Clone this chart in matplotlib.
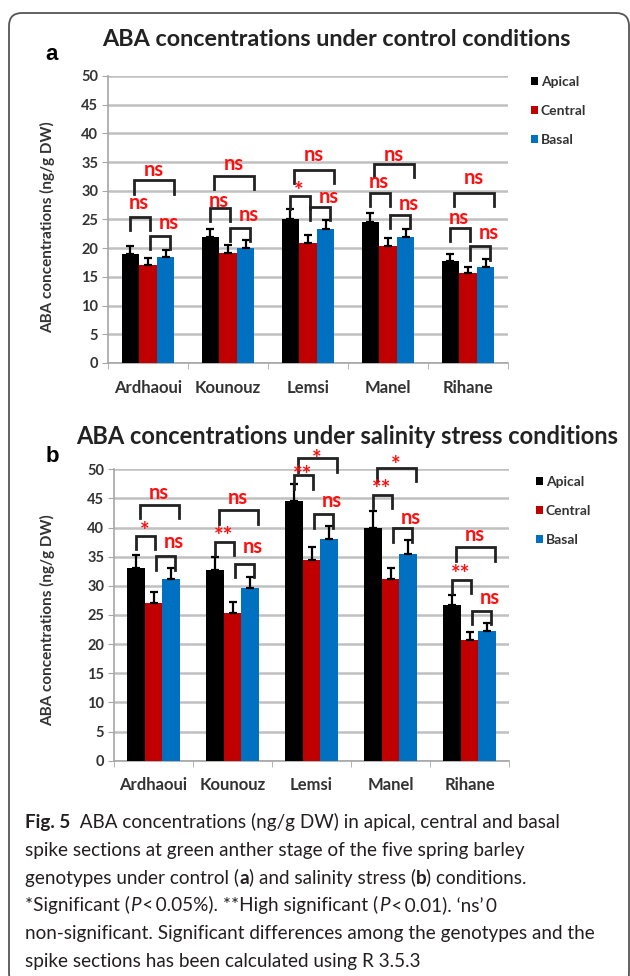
import matplotlib
matplotlib.use('Agg')
import matplotlib.pyplot as plt
import numpy as np
from matplotlib.patches import FancyBboxPatch

plt.rcParams['font.family'] = ['Lato', 'DejaVu Sans']

genotypes = ['Ardhaoui', 'Kounouz', 'Lemsi', 'Manel', 'Rihane']
sections = ['Apical', 'Central', 'Basal']
bar_colors = ['#000000', '#c00000', '#0070c0']

# control conditions (ng/g DW)
ctrl_apical = [19.0, 21.9, 25.1, 24.5, 17.7]
ctrl_central = [17.1, 19.2, 20.9, 20.3, 15.6]
ctrl_basal = [18.4, 20.0, 23.4, 21.9, 16.8]
ctrl_apical_err = [1.4, 1.5, 1.7, 1.6, 1.3]
ctrl_central_err = [1.2, 1.4, 1.4, 1.4, 1.2]
ctrl_basal_err = [1.3, 1.5, 1.5, 1.5, 1.3]

# salinity stress (ng/g DW)
salt_apical = [33.1, 32.7, 44.5, 40.0, 26.7]
salt_central = [27.0, 25.4, 34.4, 31.1, 20.7]
salt_basal = [31.1, 29.7, 38.0, 35.4, 22.3]
salt_apical_err = [2.2, 2.2, 2.9, 2.9, 1.7]
salt_central_err = [2.0, 1.8, 2.2, 2.0, 1.4]
salt_basal_err = [1.9, 1.9, 2.3, 2.4, 1.4]

# significance marks: apical-central, central-basal, apical-basal
ctrl_sig_ac = ['ns', 'ns', '*', 'ns', 'ns']
ctrl_sig_cb = ['ns', 'ns', 'ns', 'ns', 'ns']
ctrl_sig_ab = ['ns', 'ns', 'ns', 'ns', 'ns']
salt_sig_ac = ['*', '**', '**', '**', '**']
salt_sig_cb = ['ns', 'ns', 'ns', 'ns', 'ns']
salt_sig_ab = ['ns', 'ns', '*', '*', 'ns']

# bracket heights (data units)
ctrl_y_ac = [25.5, 27.0, 29.1, 29.7, 23.5]
ctrl_y_cb = [22.2, 23.6, 27.2, 25.8, 20.3]
ctrl_y_ab = [31.8, 32.6, 33.7, 34.7, 29.6]
salt_y_ac = [38.6, 37.6, 49.0, 45.6, 31.0]
salt_y_cb = [35.1, 33.8, 42.3, 39.9, 25.7]
salt_y_ab = [43.9, 43.0, 51.9, 50.3, 36.6]

# heights of the significance labels (data units)
ctrl_lbl_ac = [27.8, 28.3, 31.0, 31.6, 25.2]
ctrl_lbl_cb = [24.4, 25.8, 29.0, 27.7, 22.6]
ctrl_lbl_ab = [33.7, 34.7, 36.2, 36.3, 32.3]
salt_lbl_ac = [40.4, 39.6, 50.0, 47.6, 33.0]
salt_lbl_cb = [37.6, 36.6, 44.6, 41.6, 28.0]
salt_lbl_ab = [45.9, 45.0, 52.7, 51.7, 38.8]

W, H = 630, 976
fig = plt.figure(figsize=(W / 100, H / 100), dpi=100)


def px_box(left, top, right, bottom):
    return [left / W, 1 - bottom / H, (right - left) / W, (bottom - top) / H]


def bracket(ax, x0, x1, y, h=2.3):
    ax.plot([x0, x0, x1, x1], [y - h, y, y, y - h], color='#222222', lw=2.0,
            clip_on=False, zorder=5, solid_joinstyle='miter')


def mark(ax, x, y, s):
    # asterisks sit high in the em box, pull them down a bit
    if s == 'ns':
        ax.text(x, y, s, color='#ff1010', fontsize=14.5, fontweight='bold',
                ha='center', va='center', clip_on=False, zorder=6)
    else:
        ax.text(x, y - 1.1, s, color='#ff1010', fontsize=16.5, fontweight='bold',
                ha='center', va='center', clip_on=False, zorder=6)


def draw_panel(ax, vals, errs, sig, ys, lbls, legend_pos):
    x = np.arange(len(genotypes))
    w = 0.22
    offs = [-w, 0, w]
    for k in range(3):
        ax.bar(x + offs[k], vals[k], w, color=bar_colors[k], label=sections[k], zorder=3,
               yerr=[np.zeros(len(x)), errs[k]],
               error_kw=dict(ecolor='black', elinewidth=1.6, capsize=2.8, capthick=1.6, zorder=4))
    for i in range(len(x)):
        xa, xc, xb = x[i] - w, x[i], x[i] + w
        bracket(ax, xa, xc + 0.02, ys[0][i])
        mark(ax, (xa + xc) / 2, lbls[0][i], sig[0][i])
        bracket(ax, xc + 0.03, xb + 0.05, ys[1][i])
        mark(ax, xb + 0.04, lbls[1][i], sig[1][i])
        bracket(ax, xa + 0.05, xb + 0.1, ys[2][i])
        mark(ax, (xa + xb) / 2 + 0.07, lbls[2][i], sig[2][i])

    ax.set_xlim(-0.5, 4.5)
    ax.set_ylim(0, 50)
    ax.set_yticks(range(0, 51, 5))
    ax.yaxis.grid(True, color='#c0c0c0', lw=1.8)
    ax.set_axisbelow(True)
    for s in ['top', 'right']:
        ax.spines[s].set_visible(False)
    for s in ['left', 'bottom']:
        ax.spines[s].set_color('#a6a6a6')
        ax.spines[s].set_linewidth(1.2)
    ax.tick_params(axis='y', length=4, color='#a6a6a6', labelsize=10.5, labelcolor='#333333', pad=3)
    for lbl in ax.get_yticklabels():
        lbl.set_fontweight('bold')
    ax.set_xticks(x)
    ax.set_xticklabels(genotypes, fontsize=12, fontweight='bold', color='#333333')
    ax.tick_params(axis='x', length=0, pad=12)
    ax.set_xticks(np.arange(-0.5, 5, 1), minor=True)
    ax.tick_params(axis='x', which='minor', length=4, color='#a6a6a6')
    ax.legend(loc='upper left', bbox_to_anchor=(legend_pos[0] / W, 1 - legend_pos[1] / H),
              bbox_transform=fig.transFigure, frameon=False,
              prop=dict(size=10, weight='bold'), labelcolor='#333333',
              handlelength=0.5, handleheight=0.5, handletextpad=0.2,
              labelspacing=1.22, borderpad=0, borderaxespad=0)


ax_a = fig.add_axes(px_box(108, 76, 508, 363))
draw_panel(ax_a, [ctrl_apical, ctrl_central, ctrl_basal],
           [ctrl_apical_err, ctrl_central_err, ctrl_basal_err],
           [ctrl_sig_ac, ctrl_sig_cb, ctrl_sig_ab],
           [ctrl_y_ac, ctrl_y_cb, ctrl_y_ab],
           [ctrl_lbl_ac, ctrl_lbl_cb, ctrl_lbl_ab], (531, 76))

ax_b = fig.add_axes(px_box(114, 469.3, 509, 760.7))
draw_panel(ax_b, [salt_apical, salt_central, salt_basal],
           [salt_apical_err, salt_central_err, salt_basal_err],
           [salt_sig_ac, salt_sig_cb, salt_sig_ab],
           [salt_y_ac, salt_y_cb, salt_y_ab],
           [salt_lbl_ac, salt_lbl_cb, salt_lbl_ab], (536, 476))

fig.text(336 / W, 1 - 40 / H, 'ABA concentrations under control conditions',
         ha='center', va='center', fontsize=16.8, fontweight='bold', color='#222222')
fig.text(347 / W, 1 - 436 / H, 'ABA concentrations under salinity stress conditions',
         ha='center', va='center', fontsize=17, fontweight='bold', color='#222222')
fig.text(52 / W, 1 - 55 / H, 'a', ha='center', va='center', fontsize=16,
         fontweight='bold', family='Liberation Sans')
fig.text(52 / W, 1 - 456 / H, 'b', ha='center', va='center', fontsize=16,
         fontweight='bold', family='Liberation Sans')
for yc in [227, 620]:
    fig.text(48 / W, 1 - yc / H, 'ABA concentrations (ng/g DW)', rotation=90,
             ha='center', va='center', fontsize=11, fontweight='bold', color='#333333')

# caption
renderer = fig.canvas.get_renderer()


def advance(s, **kw):
    t = fig.text(0, 0, s + '|', **kw)
    w1 = t.get_window_extent(renderer).width
    t.remove()
    t = fig.text(0, 0, '|', **kw)
    w2 = t.get_window_extent(renderer).width
    t.remove()
    return w1 - w2


cap_kw = dict(fontsize=13.6, color='#231f20')
caption = [
    [('Fig. 5', 'bold', 'normal'), ('  ABA concentrations (ng/g DW) in apical, central and basal', 'normal', 'normal')],
    [('spike sections at green anther stage of the five spring barley', 'normal', 'normal')],
    [('genotypes under control (', 'normal', 'normal'), ('a', 'bold', 'normal'),
     (') and salinity stress (', 'normal', 'normal'), ('b', 'bold', 'normal'), (') conditions.', 'normal', 'normal')],
    [('*Significant (', 'normal', 'normal'), ('P', 'normal', 'italic'),
     ('\u2009<\u20090.05%). **High significant (', 'normal', 'normal'), ('P', 'normal', 'italic'),
     ('\u2009<\u20090.01). \u2018ns\u2019\u20090', 'normal', 'normal')],
    [('non-significant. Significant differences among the genotypes and the', 'normal', 'normal')],
    [('spike sections has been calculated using R 3.5.3', 'normal', 'normal')],
]
for j, line in enumerate(caption):
    xp = 25
    yp = 828 + j * 27.8
    for s, wt, st in line:
        fig.text(xp / W, 1 - yp / H, s, va='baseline', ha='left',
                 fontweight=wt, fontstyle=st, **cap_kw)
        xp += advance(s, fontweight=wt, fontstyle=st, **cap_kw)

border = FancyBboxPatch((0.09, -0.1), 6.2, 9.63 + 0.1, boxstyle='round,pad=0,rounding_size=0.13',
                        transform=fig.dpi_scale_trans, fill=False, edgecolor='#555555', lw=1.3)
fig.patches.append(border)

fig.savefig('out.png', dpi=100)
